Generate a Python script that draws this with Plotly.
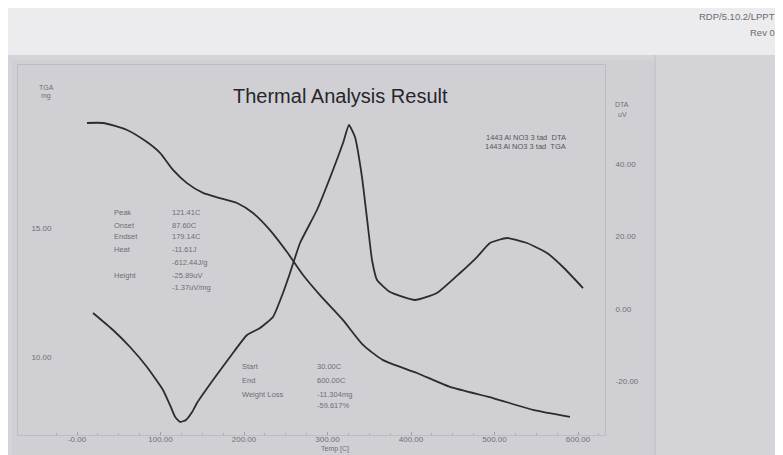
import plotly.graph_objects as go

# ---- data ----
tga_temp = [12.0, 31.1, 59.9, 83.8, 99.4, 115.0, 131.7, 150.9, 171.3, 191.6, 210.8, 231.1,
            251.5, 270.7, 291.0, 318.6, 342.5, 366.5, 407.2, 446.7, 498.2, 546.1, 590.4]
tga_mg = [19.07, 19.07, 18.80, 18.33, 17.91, 17.25, 16.74, 16.36, 16.16, 15.97, 15.58, 14.92,
          14.07, 13.18, 12.40, 11.43, 10.47, 9.88, 9.38, 8.84, 8.41, 7.95, 7.68]

dta_temp = [19.2, 43.1, 63.5, 83.8, 103.0, 111.4, 117.4, 123.4, 130.5, 137.7, 143.7, 162.9, 183.2, 203.6,
            219.2, 234.7, 246.7, 255.1, 267.1, 287.4, 306.6, 318.6, 325.7, 332.9, 341.3, 348.5,
            353.3, 359.3, 374.9, 404.8, 431.1, 458.7, 479.0, 494.6, 515.0, 538.9, 562.9, 582.0, 606.0]
dta_uv = [-1.10, -5.79, -10.48, -16.00, -22.34, -26.50, -29.70, -31.17, -30.60, -28.50, -25.93, -19.59,
          -13.24, -7.17, -5.24, -2.21, 4.41, 9.93, 18.21, 27.31, 38.34, 45.79, 50.76, 47.45, 36.41,
          22.62, 13.52, 8.00, 4.69, 2.48, 4.41, 9.93, 14.34, 18.21, 19.59, 18.21, 15.45, 11.59, 5.79]

x_tickvals = [0, 100, 200, 300, 400, 500, 600]
x_ticktext = ["-0.00", "100.00", "200.00", "300.00", "400.00", "500.00", "600.00"]
tga_tickvals = [10, 15]
tga_ticktext = ["10.00", "15.00"]
dta_tickvals = [-20, 0, 20, 40]
dta_ticktext = ["-20.00", "0.00", "20.00", "40.00"]

peak_labels = ["Peak", "Onset", "Endset", "Heat", "", "Height", ""]
peak_values = ["121.41C", "87.60C", "179.14C", "-11.61J", "-612.44J/g", "-25.89uV", "-1.37uV/mg"]
loss_labels = ["Start", "End", "Weight Loss", ""]
loss_values = ["30.00C", "600.00C", "-11.304mg", "-59.617%"]
legend_lines = ["1443 Al NO3 3 tad  DTA", "1443 Al NO3 3 tad  TGA"]

OFF = 8  # page body margin
W, H = 783 - OFF, 455 - OFF
FONT = "Liberation Sans, Arial, sans-serif"
INK = "#2b2b30"
GREY = "#6e6e76"

def px(x):
    return (x - OFF) / W

def py(y):
    return 1 - (y - OFF) / H

fig = go.Figure()
fig.add_trace(go.Scatter(x=dta_temp, y=dta_uv, mode="lines", yaxis="y2",
                         line=dict(color=INK, width=1.8, shape="spline", smoothing=0.45),
                         name="DTA", hoverinfo="skip"))
fig.add_trace(go.Scatter(x=tga_temp, y=tga_mg, mode="lines",
                         line=dict(color=INK, width=1.8, shape="spline", smoothing=0.6),
                         name="TGA", hoverinfo="skip"))

annotations = []
def txt(x, y, s, size=7.5, color=GREY, xanchor="left"):
    annotations.append(dict(x=px(x), y=py(y), xref="paper", yref="paper", text=s,
                            showarrow=False, xanchor=xanchor, yanchor="middle",
                            font=dict(family=FONT, size=size, color=color)))

txt(340, 96, "Thermal Analysis Result", size=20, color="#26262b", xanchor="center")
txt(46, 87, "TGA", size=7, xanchor="center")
txt(46, 96, "mg", size=7, xanchor="center")
txt(622, 105, "DTA", size=7, xanchor="center")
txt(622, 114, "uV", size=7, xanchor="center")
txt(335, 449, "Temp [C]", size=7, xanchor="center")
txt(568, 137, legend_lines[0], size=7.5, color="#55555d", xanchor="right")
txt(568, 146, legend_lines[1], size=7.5, color="#55555d", xanchor="right")

rows_a = [212, 225, 237, 250, 262, 275, 287]
for yy, a, b in zip(rows_a, peak_labels, peak_values):
    if a:
        txt(112, yy, a)
    txt(170, yy, b)
rows_b = [366, 380, 394, 405]
for yy, a, b in zip(rows_b, loss_labels, loss_values):
    if a:
        txt(240, yy, a)
    txt(315, yy, b)

txt(777, 17, "RDP/5.10.2/LPPT", size=9.5, color="#6a6a72", xanchor="right")
txt(777, 33, "Rev 0", size=9.5, color="#6a6a72", xanchor="right")

# plot frame (in reference pixels)
L, R, T, B = 18, 605, 65, 435
x0 = -(77 - L) / 0.835
x1 = 600 + (R - 578) / 0.835
tga_lo = 15 - (B - 228) / 25.8
tga_hi = 15 + (228 - T) / 25.8
dta_lo = -(B - 309) / 3.625
dta_hi = (309 - T) / 3.625

shapes = [
    dict(type="rect", xref="paper", yref="paper", x0=0, x1=1, y0=0, y1=py(55),
         fillcolor="#d4d4d8", line=dict(width=0), layer="below"),
    dict(type="rect", xref="paper", yref="paper", x0=px(12), x1=px(655), y0=0, y1=py(60),
         fillcolor="#d0d0d4", line=dict(width=0), layer="below"),
    dict(type="line", xref="paper", yref="paper", x0=px(655), x1=px(655), y0=0, y1=py(55),
         line=dict(color="#bcbcc3", width=1), layer="below"),
]

fig.update_layout(
    width=W, height=H,
    margin=dict(l=0, r=0, t=0, b=0),
    paper_bgcolor="#ececef",
    plot_bgcolor="rgba(0,0,0,0)",
    showlegend=False,
    font=dict(family=FONT, color=GREY),
    xaxis=dict(domain=[px(L), px(R)], range=[x0, x1], tickvals=x_tickvals, ticktext=x_ticktext,
               tickfont=dict(size=8, color=GREY), showgrid=False, zeroline=False,
               showline=True, linecolor="#bdbdc4", linewidth=1, mirror=True,
               ticks="inside", ticklen=3, tickcolor="#a0a0a8", ticklabelstandoff=-4,
               minor=dict(ticks="inside", ticklen=2, dtick=25, tickcolor="#b0b0b8")),
    yaxis=dict(domain=[py(B), py(T)], range=[tga_lo, tga_hi], tickvals=tga_tickvals,
               ticktext=tga_ticktext, tickfont=dict(size=8, color=GREY),
               ticklabelposition="inside", ticklabelstandoff=12,
               showgrid=False, zeroline=False, showline=True, linecolor="#bdbdc4", linewidth=1),
    yaxis2=dict(domain=[py(B), py(T)], range=[dta_lo, dta_hi], overlaying="y", side="right",
                anchor="x", tickvals=dta_tickvals, ticktext=dta_ticktext,
                tickfont=dict(size=8, color=GREY), ticklabelstandoff=8,
                showgrid=False, zeroline=False, showline=True, linecolor="#bdbdc4", linewidth=1),
    annotations=annotations,
    shapes=shapes,
)

fig.write_html("out.html")
